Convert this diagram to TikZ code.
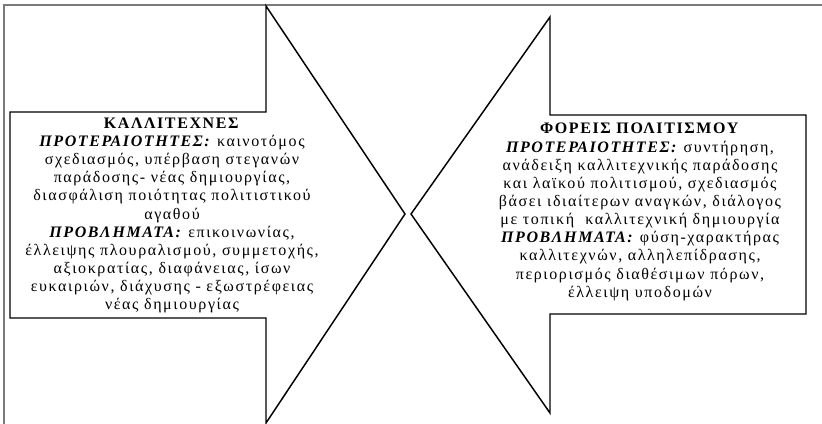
\documentclass[tikz,border=0pt]{standalone}
\usepackage{fontspec}
\setmainfont{Liberation Serif}[LetterSpace=10]
\usetikzlibrary{calc}

\begin{document}
\begin{tikzpicture}[x=0.75pt, y=-0.75pt]
    % Define colors
    \definecolor{borderColour}{HTML}{000000}
    \definecolor{frameColour}{HTML}{7A7A7A}

    % Define styles
    \tikzset{
        arrowShape/.style={draw=borderColour, line width=1.1pt, line join=miter},
        arrowText/.style={align=center, inner sep=0pt,
            font=\fontsize{12}{13.6}\selectfont}
    }

    % Fix the bounding box
    \useasboundingbox (0,0) rectangle (822,424);

    % Draw frame (top and left only)
    \draw[frameColour, line width=1.2pt] (822,5) -- (4,5) -- (4,424);

    % Define the corners of the left arrow
    \coordinate (LeftShaftTop) at (10,112);
    \coordinate (LeftShaftBottom) at (10,318);
    \coordinate (LeftHeadTop) at (266,6);
    \coordinate (LeftHeadBottom) at (266,423);
    \coordinate (LeftTip) at (405,214);
    % Draw the left arrow
    \draw[arrowShape] (LeftShaftTop) -- (LeftShaftTop -| LeftHeadTop) -- (LeftHeadTop)
        -- (LeftTip) -- (LeftHeadBottom) -- (LeftShaftBottom -| LeftHeadBottom)
        -- (LeftShaftBottom) -- cycle;

    % Define the corners of the right arrow
    \coordinate (RightShaftTop) at (806,115);
    \coordinate (RightShaftBottom) at (806,314);
    \coordinate (RightHeadTop) at (550,17);
    \coordinate (RightHeadBottom) at (550,413);
    \coordinate (RightTip) at (411,214);
    % Draw the right arrow
    \draw[arrowShape] (RightShaftTop) -- (RightShaftTop -| RightHeadTop) -- (RightHeadTop)
        -- (RightTip) -- (RightHeadBottom) -- (RightShaftBottom -| RightHeadBottom)
        -- (RightShaftBottom) -- cycle;

    % Label the left arrow
    \node[arrowText] (artists) at (172,215.5) {%
        \textbf{ΚΑΛΛΙΤΕΧΝΕΣ}\\
        \textbf{\textit{ΠΡΟΤΕΡΑΙΟΤΗΤΕΣ:}} καινοτόμος\\
        σχεδιασμός, υπέρβαση στεγανών\\
        παράδοσης- νέας δημιουργίας,\\
        διασφάλιση ποιότητας πολιτιστικού\\
        αγαθού\\
        \textbf{\textit{ΠΡΟΒΛΗΜΑΤΑ:}} επικοινωνίας,\\
        έλλειψης πλουραλισμού, συμμετοχής,\\
        αξιοκρατίας, διαφάνειας, ίσων\\
        ευκαιριών, διάχυσης - εξωστρέφειας\\
        νέας δημιουργίας};

    % Label the right arrow
    \node[arrowText] (culture) at (640,212) {%
        \textbf{ΦΟΡΕΙΣ ΠΟΛΙΤΙΣΜΟΥ}\\
        \textbf{\textit{ΠΡΟΤΕΡΑΙΟΤΗΤΕΣ:}} συντήρηση,\\
        ανάδειξη καλλιτεχνικής παράδοσης\\
        και λαϊκού πολιτισμού, σχεδιασμός\\
        βάσει ιδιαίτερων αναγκών, διάλογος\\
        με τοπική\ \ καλλιτεχνική δημιουργία\\
        \textbf{\textit{ΠΡΟΒΛΗΜΑΤΑ:}} φύση-χαρακτήρας\\
        καλλιτεχνών, αλληλεπίδρασης,\\
        περιορισμός διαθέσιμων πόρων,\\
        έλλειψη υποδομών};

\end{tikzpicture}
\end{document}
